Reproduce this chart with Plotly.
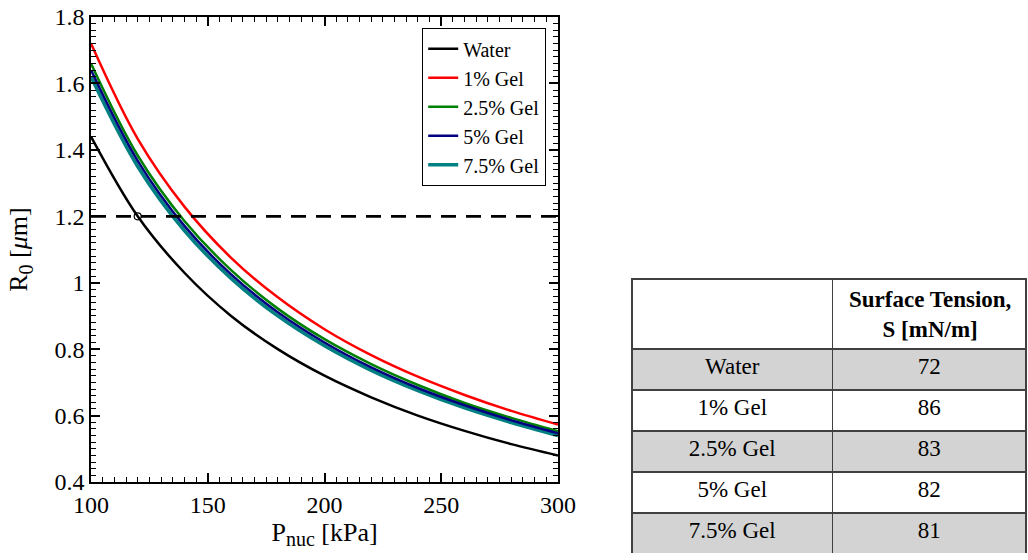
import plotly.graph_objects as go

# Nucleation pressure values (kPa) at which the curves were read
p_nuc = [100, 120, 140, 160, 180, 200, 220, 240, 260, 280, 300]

# R0 [um]
r_water = [1.44, 1.20, 1.03, 0.90, 0.80, 0.72, 0.655, 0.60, 0.554, 0.514, 0.48]
r_gel1 = [1.72, 1.433, 1.229, 1.075, 0.956, 0.86, 0.782, 0.717, 0.662, 0.614, 0.573]
r_gel25 = [1.66, 1.383, 1.186, 1.038, 0.922, 0.83, 0.755, 0.692, 0.638, 0.593, 0.553]
r_gel5 = [1.64, 1.367, 1.171, 1.025, 0.911, 0.82, 0.745, 0.683, 0.631, 0.586, 0.547]
r_gel75 = [1.62, 1.35, 1.157, 1.013, 0.90, 0.81, 0.736, 0.675, 0.623, 0.579, 0.54]

series_names = ["Water", "1% Gel", "2.5% Gel", "5% Gel", "7.5% Gel"]
surface_tension = [72, 86, 83, 82, 81]
table_header = ["", "Surface Tension,", "S [mN/m]"]

threshold_r = 1.2
threshold_x = [100, 300]
marker_p = [120]
marker_r = [1.2]

W, H = 1028, 560
FONT = "Liberation Serif"

fig = go.Figure()

colors = ["#000000", "#ff0000", "#008000", "#000080", "#008080"]
data = [r_water, r_gel1, r_gel25, r_gel5, r_gel75]
widths = [2.5, 2.5, 2.5, 2.5, 3.5]
draw_order = [0, 1, 4, 2, 3]
for i in draw_order:
    fig.add_trace(go.Scatter(
        x=p_nuc, y=data[i], mode="lines", name=series_names[i],
        line=dict(color=colors[i], width=widths[i], shape="spline", smoothing=1.0),
        legendrank=i + 1,
    ))

fig.add_trace(go.Scatter(
    x=threshold_x, y=[threshold_r, threshold_r], mode="lines",
    line=dict(color="black", width=2.8, dash="15px,10px"), showlegend=False,
))
fig.add_trace(go.Scatter(
    x=marker_p, y=marker_r, mode="markers",
    marker=dict(symbol="circle-open", size=7, color="black", line=dict(width=1.2)),
    showlegend=False,
))

row_fill = ["#d3d3d3", "#ffffff", "#d3d3d3", "#ffffff", "#d3d3d3"]
fig.add_trace(go.Table(
    domain=dict(x=[632 / W, 1027 / W], y=[1 - 553 / H, 1 - 279 / H]),
    columnwidth=[201, 194],
    header=dict(
        values=["", ""],
        fill_color="white",
        line=dict(color="#404040", width=1.4),
        align="center",
        height=70,
        font=dict(family=FONT, size=23, color="black"),
    ),
    cells=dict(
        values=[series_names, [str(s) for s in surface_tension]],
        fill_color=[row_fill, row_fill],
        line=dict(color="#404040", width=1.4),
        align="center",
        height=41,
        font=dict(family=FONT, size=23, color="black"),
    ),
))

fig.add_annotation(
    x=930 / W, y=1 - 314 / H, xref="paper", yref="paper",
    text="<b>" + table_header[1] + "</b><br><b>" + table_header[2] + "</b>",
    showarrow=False, align="center", xanchor="center", yanchor="middle",
    font=dict(family=FONT, size=23, color="black"),
)

axis_common = dict(
    showline=True, linecolor="black", linewidth=1.5, mirror="allticks",
    ticks="inside", ticklen=9, tickwidth=1.5, tickcolor="black",
    showgrid=False, zeroline=False, automargin=False,
    tickfont=dict(family=FONT, size=24, color="black"),
)

fig.update_layout(
    width=W, height=H,
    margin=dict(l=0, r=0, t=0, b=0),
    paper_bgcolor="white", plot_bgcolor="white",
    font=dict(family=FONT, color="black"),
    xaxis=dict(
        domain=[91 / W, 558 / W], range=[100, 300], dtick=50, tick0=100,
        minor=dict(dtick=5, ticks="inside", ticklen=5, tickcolor="black", tickwidth=1.2),
        title=dict(text="P<sub><span style='font-size:20px'>nuc</span></sub> [kPa]",
                   font=dict(family=FONT, size=26), standoff=6),
        **axis_common,
    ),
    yaxis=dict(
        domain=[1 - 482 / H, 1 - 17 / H], range=[0.4, 1.8], dtick=0.2, tick0=0.4,
        minor=dict(dtick=0.02, ticks="inside", ticklen=5, tickcolor="black", tickwidth=1.2),
        title=dict(text="R<sub><span style='font-size:20px'>0</span></sub> [<i>μ</i>m]",
                   font=dict(family=FONT, size=26), standoff=19),
        **axis_common,
    ),
    legend=dict(
        x=546 / W, xanchor="right", y=1 - 28 / H, yanchor="top",
        bgcolor="white", bordercolor="black", borderwidth=1.2,
        font=dict(family=FONT, size=20, color="black"),
        itemwidth=30, tracegroupgap=0,
    ),
    showlegend=True,
)

fig.write_html("out.html")
